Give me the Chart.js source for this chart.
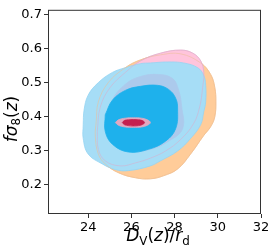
<!DOCTYPE html>
<html>
<head>
<meta charset="utf-8">
<script src="https://cdn.jsdelivr.net/npm/chart.js@4.4.1/dist/chart.umd.min.js"></script>
<style>
  html, body { margin: 0; padding: 0; background: #fff; }
  #wrap { width: 273px; height: 249px; position: relative; }
</style>
</head>
<body>
<div id="wrap"><canvas id="contours"></canvas></div>
<script>
// tick labels
const xTicks = [24, 26, 28, 30, 32];
const yTicks = [0.2, 0.3, 0.4, 0.5, 0.6, 0.7];

// contour boundaries (D_V/r_d, f sigma_8)
const orangeOuterX = [24.37, 24.47, 24.93, 25.72, 26.42, 27.35, 28.28, 29.21, 29.67, 29.86, 29.91, 29.86, 29.67, 29.35, 28.74, 28.14, 27.49, 26.88, 26.19, 25.40, 24.79, 24.47, 24.33];
const orangeOuterY = [0.385, 0.443, 0.500, 0.544, 0.567, 0.582, 0.585, 0.558, 0.524, 0.486, 0.443, 0.399, 0.370, 0.344, 0.289, 0.245, 0.225, 0.216, 0.219, 0.234, 0.260, 0.289, 0.341];

const pinkOuterX = [24.42, 24.56, 25.02, 25.72, 26.42, 27.35, 28.28, 28.84, 29.21, 29.35, 29.30, 29.16, 28.88, 28.28, 27.58, 26.88, 26.19, 25.49, 24.79, 24.47];
const pinkOuterY = [0.356, 0.428, 0.486, 0.530, 0.564, 0.587, 0.596, 0.587, 0.564, 0.530, 0.486, 0.428, 0.379, 0.332, 0.298, 0.277, 0.263, 0.254, 0.269, 0.303];

const blueOuterX = [23.77, 23.81, 24.00, 24.47, 25.12, 25.72, 26.42, 26.88, 27.67, 28.42, 29.07, 29.35, 29.44, 29.44, 29.35, 29.21, 28.74, 28.14, 27.35, 26.88, 25.86, 25.26, 24.65, 24.00, 23.77];
const blueOuterY = [0.376, 0.419, 0.463, 0.500, 0.530, 0.544, 0.556, 0.558, 0.561, 0.558, 0.544, 0.521, 0.492, 0.443, 0.414, 0.376, 0.335, 0.298, 0.269, 0.254, 0.240, 0.243, 0.260, 0.289, 0.335];

const pinkInnerX = [24.93, 25.12, 25.72, 26.42, 27.26, 27.91, 28.19, 28.33, 28.37, 27.72, 26.88, 25.95, 25.12];
const pinkInnerY = [0.385, 0.448, 0.495, 0.518, 0.524, 0.512, 0.477, 0.428, 0.364, 0.327, 0.303, 0.298, 0.327];

const blueInnerX = [24.79, 25.12, 25.72, 26.42, 27.21, 27.72, 28.05, 28.14, 28.05, 27.58, 26.79, 25.86, 25.12, 24.79];
const blueInnerY = [0.405, 0.448, 0.477, 0.489, 0.492, 0.480, 0.454, 0.422, 0.364, 0.327, 0.303, 0.295, 0.318, 0.356];

const redOuterX = [25.26, 25.40, 25.72, 26.09, 26.47, 26.74, 26.88, 26.74, 26.47, 26.09, 25.72, 25.40];
const redOuterY = [0.382, 0.390, 0.395, 0.396, 0.395, 0.390, 0.382, 0.374, 0.369, 0.368, 0.369, 0.374];

const redInnerX = [25.58, 25.67, 25.86, 26.09, 26.33, 26.51, 26.61, 26.51, 26.33, 26.09, 25.86, 25.67];
const redInnerY = [0.382, 0.388, 0.390, 0.391, 0.390, 0.388, 0.382, 0.376, 0.373, 0.372, 0.373, 0.376];

const FONT = '"DejaVu Sans", sans-serif';

// join x/y lists into a closed loop of points
function loop(xs, ys) {
  const pts = xs.map((x, i) => ({ x: x, y: ys[i] }));
  pts.push(pts[0]);
  return pts;
}

function region(xs, ys, fillColor, edgeColor) {
  return {
    data: loop(xs, ys),
    showLine: true,
    fill: fillColor ? "shape" : false,
    backgroundColor: fillColor || "transparent",
    borderColor: edgeColor,
    borderWidth: 0.8,
    pointRadius: 0,
    tension: 0.4
  };
}

// bottom layer first
const layers = [
  region(orangeOuterX, orangeOuterY, "rgb(255,204,153)", "rgb(250,195,140)"),
  region(pinkOuterX, pinkOuterY, "rgb(255,196,220)", "rgb(245,185,210)"),
  region(blueOuterX, blueOuterY, "rgb(166,221,246)", "rgb(150,212,242)"),
  region(orangeOuterX, orangeOuterY, null, "rgba(235,190,150,0.7)"),
  region(pinkOuterX, pinkOuterY, null, "rgba(215,175,205,0.7)"),
  region(pinkInnerX, pinkInnerY, "rgb(172,202,236)", "rgb(172,202,236)"),
  region(blueInnerX, blueInnerY, "rgb(30,177,236)", "rgb(30,177,236)"),
  region(redOuterX, redOuterY, "rgb(226,168,192)", "rgb(226,168,192)"),
  region(redInnerX, redInnerY, "rgb(196,32,78)", "rgb(196,32,78)")
];
layers.forEach((d, i) => { d.order = layers.length - i; });

// ─── mathtext-ish axis titles ────────────────────────────────────────────────
const xTitle = [{ t: "D", it: true }, { t: "V", sub: true }, { t: "(" }, { t: "z", it: true }, { t: ")" }, { t: "/" }, { t: "r", it: true }, { t: "d", sub: true }];
const yTitle = [{ t: "f", it: true }, { t: "σ", it: true }, { t: "8", sub: true }, { t: "(" }, { t: "z", it: true }, { t: ")" }];

function partFont(p, size) {
  return (p.it ? "italic " : "") + (p.sub ? size * 0.7 : size) + "px " + FONT;
}

function drawMath(ctx, parts, size, x, y) {
  let w = 0;
  parts.forEach(p => { ctx.font = partFont(p, size); w += ctx.measureText(p.t).width; });
  let cx = x - w / 2;
  parts.forEach(p => {
    ctx.font = partFont(p, size);
    ctx.fillText(p.t, cx, p.sub ? y + size * 0.22 : y);
    cx += ctx.measureText(p.t).width;
  });
}

const frame = {
  id: "frame",
  afterDraw(chart) {
    const { ctx, chartArea: a } = chart;
    ctx.save();
    ctx.strokeStyle = "#333";
    ctx.lineWidth = 1;
    ctx.strokeRect(a.left + 0.5, a.top + 0.5, a.right - a.left - 1, a.bottom - a.top - 1);
    ctx.fillStyle = "#000";
    ctx.textBaseline = "alphabetic";
    ctx.textAlign = "left";
    drawMath(ctx, xTitle, 17, 158, 241);
    ctx.translate(16.5, 119);
    ctx.rotate(-Math.PI / 2);
    drawMath(ctx, yTitle, 17, 0, 0);
    ctx.restore();
  }
};

const tickFont = { family: FONT, size: 13 };

new Chart(document.getElementById("contours"), {
  type: "scatter",
  data: { datasets: layers },
  options: {
    responsive: true,
    maintainAspectRatio: false,
    animation: false,
    layout: { padding: { left: 0, top: 6, right: 12, bottom: 0 } },
    plugins: { legend: { display: false }, tooltip: { enabled: false } },
    scales: {
      x: {
        type: "linear",
        min: 22.14, max: 32,
        afterBuildTicks: axis => { axis.ticks = xTicks.map(v => ({ value: v })); },
        afterFit: axis => { axis.height = 35; },
        grid: { drawOnChartArea: false, tickLength: 4, tickColor: "#333" },
        border: { display: false },
        ticks: { font: tickFont, color: "#000", padding: 2, maxRotation: 0, callback: v => String(v) }
      },
      y: {
        type: "linear",
        min: 0.112, max: 0.715,
        afterBuildTicks: axis => { axis.ticks = yTicks.map(v => ({ value: v })); },
        afterFit: axis => { axis.width = 48; },
        grid: { drawOnChartArea: false, tickLength: 4, tickColor: "#333" },
        border: { display: false },
        ticks: { font: tickFont, color: "#000", padding: 2, callback: v => v.toFixed(1) }
      }
    }
  },
  plugins: [frame]
});
</script>
</body>
</html>
